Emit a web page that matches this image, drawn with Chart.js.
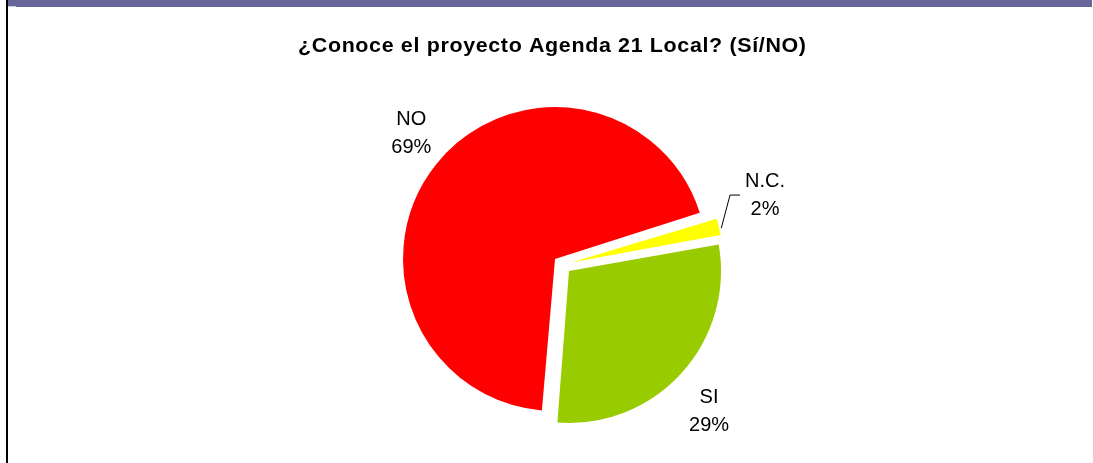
<!DOCTYPE html>
<html>
<head>
<meta charset="utf-8">
<script src="https://cdn.jsdelivr.net/npm/chart.js@4/dist/chart.umd.min.js"></script>
<style>
  html, body { margin: 0; padding: 0; background: #ffffff; }
  #wrap { position: relative; width: 1093px; height: 463px; overflow: hidden; background: #fff; }
  #topbar { position: absolute; left: 8px; top: 0; width: 1084px; height: 7px; background: #666699; }
  #topbar2 { position: absolute; left: 8px; top: 6px; width: 8px; height: 1px; background: #c8c8e6; }
  #leftline { position: absolute; left: 6px; top: 0; width: 2px; height: 463px; background: #000; }
  canvas { position: absolute; left: 0; top: 0; }
</style>
</head>
<body>
<div id="wrap">
  <canvas id="c" width="1093" height="463"></canvas>
  <div id="topbar"></div>
  <div id="topbar2"></div>
  <div id="leftline"></div>
</div>
<script>
// ---- data ----
const categories = ['NO', 'N.C.', 'SI'];
const percentages = [69, 2, 29];
const valueLabels = ['69%', '2%', '29%'];
const titleText = '¿Conoce el proyecto Agenda 21 Local? (Sí/NO)';

// ---- label placement config (style, not data) ----
const labelConfig = {
  distance: [191, 205.3, 198.4],
  angleAdjustDeg: [2.6, -5.6, 2.9],
  leader: [false, true, false],
  leaderStartAdjustDeg: 0.7,
  lineGap: 28,
  font: '20px "Liberation Sans", Arial, sans-serif'
};
const titleConfig = {
  font: 'bold 19.5px "Liberation Sans", Arial, sans-serif',
  scaleX: 1.1,
  targetWidth: 508,
  centerX: 552,
  baselineY: 51.5
};

const R = 152;
const EXPLODE = 36.8; // Chart.js offset units (translation = offset / 4)

const keepRadiusPlugin = {
  id: 'keepRadius',
  afterDatasetUpdate(chart, args) {
    const meta = chart.getDatasetMeta(args.index);
    meta.data.forEach(el => {
      const off = (el.options.offset || 0) / 4;
      const fix = 1 - Math.sin(Math.min(Math.PI, el.circumference || 0));
      el.outerRadius = R - off * fix;
    });
  }
};

const titlePlugin = {
  id: 'stretchedTitle',
  afterDraw(chart) {
    const ctx = chart.ctx;
    ctx.save();
    ctx.font = titleConfig.font;
    ctx.fillStyle = '#000';
    ctx.textBaseline = 'alphabetic';
    ctx.textAlign = 'left';
    const chars = Array.from(titleText);
    const base = ctx.measureText(titleText).width * titleConfig.scaleX;
    const ls = (titleConfig.targetWidth - base) / (chars.length - 1) / titleConfig.scaleX;
    ctx.translate(titleConfig.centerX - titleConfig.targetWidth / 2, titleConfig.baselineY);
    ctx.scale(titleConfig.scaleX, 1);
    if ('letterSpacing' in ctx) {
      ctx.letterSpacing = ls + 'px';
      ctx.fillText(titleText, 0, 0);
    } else {
      let x = 0;
      chars.forEach(ch => { ctx.fillText(ch, x, 0); x += ctx.measureText(ch).width + ls; });
    }
    ctx.restore();
  }
};

const labelPlugin = {
  id: 'sliceLabels',
  afterDatasetsDraw(chart) {
    const ctx = chart.ctx;
    const meta = chart.getDatasetMeta(0);
    ctx.save();
    ctx.font = labelConfig.font;
    ctx.fillStyle = '#000';
    ctx.textAlign = 'center';
    ctx.textBaseline = 'middle';
    meta.data.forEach((el, i) => {
      const half = (el.startAngle + el.endAngle) / 2;
      const off = (el.options.offset || 0) / 4;
      const cx = el.x + Math.cos(half) * off;
      const cy = el.y + Math.sin(half) * off;
      const a = half + labelConfig.angleAdjustDeg[i] * Math.PI / 180;
      const lx = cx + Math.cos(a) * labelConfig.distance[i];
      const ly = cy + Math.sin(a) * labelConfig.distance[i];
      ctx.fillText(categories[i], lx, ly - labelConfig.lineGap / 2);
      ctx.fillText(valueLabels[i], lx, ly + labelConfig.lineGap / 2);
      if (labelConfig.leader[i]) {
        const sa = half + labelConfig.leaderStartAdjustDeg * Math.PI / 180;
        const sx = cx + Math.cos(sa) * (R + 2);
        const sy = cy + Math.sin(sa) * (R + 2);
        ctx.beginPath();
        ctx.strokeStyle = '#000';
        ctx.lineWidth = 1;
        ctx.moveTo(sx, sy);
        ctx.lineTo(lx - 35, ly);
        ctx.lineTo(lx - 25, ly);
        ctx.stroke();
      }
    });
    ctx.restore();
  }
};

new Chart(document.getElementById('c'), {
  type: 'pie',
  data: {
    labels: categories,
    datasets: [{
      data: percentages,
      backgroundColor: ['#ff0000', '#ffff00', '#99cc00'],
      borderWidth: 0,
      offset: EXPLODE
    }]
  },
  options: {
    responsive: false,
    animation: false,
    events: [],
    rotation: 184.4,
    radius: R,
    layout: { padding: { left: 132.2, right: 100.8, top: 70, bottom: 3.5 } },
    plugins: {
      legend: { display: false },
      tooltip: { enabled: false },
      title: { display: false }
    }
  },
  plugins: [keepRadiusPlugin, labelPlugin, titlePlugin]
});
</script>
</body>
</html>
